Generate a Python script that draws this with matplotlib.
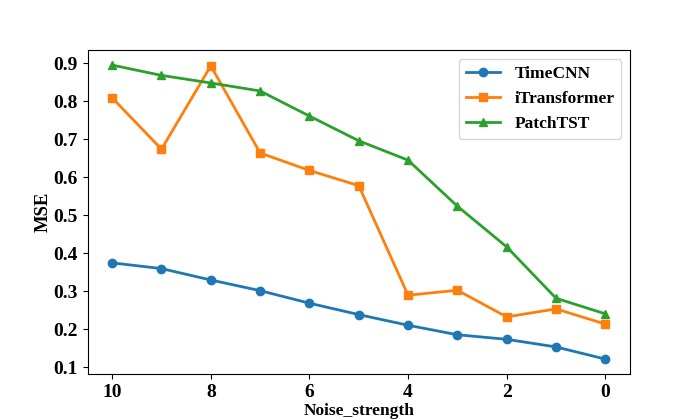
import matplotlib
matplotlib.use('Agg')
import matplotlib.pyplot as plt

plt.rcParams['font.family'] = ['Liberation Serif', 'DejaVu Serif']
plt.rcParams['font.weight'] = 'bold'

noise = [10, 9, 8, 7, 6, 5, 4, 3, 2, 1, 0]
timecnn = [0.375, 0.360, 0.330, 0.302, 0.269, 0.239, 0.211, 0.186, 0.174, 0.154, 0.122]
itransformer = [0.809, 0.674, 0.893, 0.664, 0.618, 0.578, 0.290, 0.303, 0.233, 0.254, 0.214]
patchtst = [0.895, 0.868, 0.848, 0.827, 0.761, 0.696, 0.645, 0.524, 0.417, 0.282, 0.241]

fig, ax = plt.subplots(figsize=(7, 4.2), dpi=100)
ax.plot(noise, timecnn, '-o', color='#1f77b4', lw=2, ms=6, label='TimeCNN')
ax.plot(noise, itransformer, '-s', color='#ff7f0e', lw=2, ms=6, label='iTransformer')
ax.plot(noise, patchtst, '-^', color='#2ca02c', lw=2, ms=6, label='PatchTST')

ax.invert_xaxis()
ax.set_xticks([10, 8, 6, 4, 2, 0])
ax.set_yticks([0.1, 0.2, 0.3, 0.4, 0.5, 0.6, 0.7, 0.8, 0.9])
ax.tick_params(labelsize=14)
for lab in ax.get_xticklabels() + ax.get_yticklabels():
    lab.set_fontweight('bold')
ax.set_xlabel('Noise_strength', fontsize=12.5, fontweight='bold', labelpad=2)
ax.set_ylabel('MSE', fontsize=13.5, fontweight='bold', labelpad=1)
ax.legend(loc='upper right', prop={'size': 12.5, 'weight': 'bold'})

fig.savefig('out.png')
